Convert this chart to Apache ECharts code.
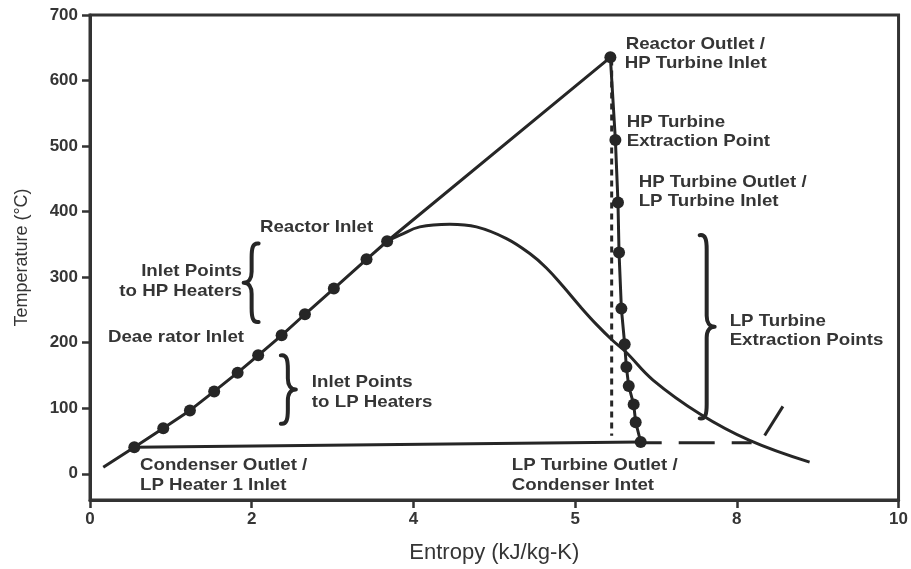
<!DOCTYPE html>
<html lang="en">
<head>
    <meta charset="UTF-8">
    <title>T-s diagram</title>
    <script src="https://cdn.jsdelivr.net/npm/echarts@6/dist/echarts.min.js"></script>
</head>
<style>
html,body{margin:0;padding:0;background:#fff;}
#chartBox{width:911px;height:569px;}
</style>
<body>
    <div id="chartBox"></div>
</body>
<script>
// 轴刻度
const xTickLabels = ['0', '2', '4', '5', '8', '10'];
const yTicks = [0, 100, 200, 300, 400, 500, 600, 700];

// 给水加热线 (起点 -> 各加热器入口 -> 反应堆出口)
const feedS = [0.164, 0.548, 0.906, 1.236, 1.536, 1.826, 2.080, 2.370, 2.658, 3.016, 3.420, 3.675, 6.436];
const feedT = [10.1, 40.6, 69.6, 96.7, 125.7, 154.3, 180.7, 211.3, 243.4, 282.6, 327.3, 354.8, 635.4];

// 加热器入口点
const heaterS = [0.548, 0.906, 1.236, 1.536, 1.826, 2.080, 2.370, 2.658, 3.016, 3.420, 3.675];
const heaterT = [40.6, 69.6, 96.7, 125.7, 154.3, 180.7, 211.3, 243.4, 282.6, 327.3, 354.8];

// 饱和线
const domeS = [3.675, 3.832, 4.079, 4.450, 4.780, 5.151, 5.439, 5.645, 5.850, 6.057, 6.263, 6.468, 6.634, 6.963, 7.540, 8.158, 8.900];
const domeT = [354.8, 364.0, 376.7, 380.8, 376.7, 358.9, 336.0, 314.0, 286.0, 256.0, 228.0, 203.0, 185.0, 143.0, 91.6, 50.9, 17.7];

// 汽轮机膨胀线 (含抽汽点)
const turbineS = [6.436, 6.498, 6.530, 6.543, 6.572, 6.613, 6.634, 6.663, 6.724, 6.749, 6.811];
const turbineT = [635.4, 509.1, 413.9, 337.6, 252.0, 197.5, 162.8, 133.8, 105.9, 78.8, 48.5];

// 冷凝线 / 虚线延长 / 斜短线 / 等熵线
const condS = [0.548, 6.811];
const condT = [40.6, 48.5];
const dashS = [6.811, 8.183];
const dashT = [47.5, 47.5];
const diagS = [8.344, 8.570];
const diagT = [58.5, 102.8];
const isenS = [6.452, 6.452];
const isenT = [632, 58];

// 大括号: 位置x, 上端, 下端, 方向(1 = '}', -1 = '{')
const braceS = [1.999, 2.447, 7.627];
const braceTop = [351.3, 180.7, 364.0];
const braceBottom = [231.6, 76.4, 84.5];
const braceDir = [-1, 1, 1];

// 注释文字
const noteText = ['Reactor Outlet /', 'HP Turbine Inlet', 'HP Turbine', 'Extraction Point',
    'HP Turbine Outlet /', 'LP Turbine Inlet', 'Reactor Inlet', 'Inlet Points', 'to HP Heaters',
    'Deae rator Inlet', 'Inlet Points', 'to LP Heaters', 'Condenser Outlet /', 'LP Heater 1 Inlet',
    'LP Turbine Outlet /', 'Condenser Intet', 'LP Turbine', 'Extraction Points'];
const noteS = [6.625, 6.613, 6.638, 6.638, 6.786, 6.786, 2.101, 1.879, 1.879,
    0.222, 2.744, 2.744, 0.618, 0.618, 5.216, 5.216, 7.911, 7.911];
const noteT = [655.7, 626.7, 536.6, 507.6, 444.2, 415.9, 375.4, 309.0, 278.5,
    208.2, 139.5, 108.9, 12.7, -17.9, 12.7, -17.9, 232.6, 203.6];
const noteAlign = ['left', 'left', 'left', 'left', 'left', 'left', 'left', 'right', 'right',
    'left', 'left', 'left', 'left', 'left', 'left', 'left', 'left', 'left'];

const LINE = '#262626';
const TEXT = '#353535';
const FONT = '"Liberation Sans", Arial, sans-serif';

function pairs(xs, ys) {
    return xs.map((x, i) => [x, ys[i]]);
}

function lineSeries(xs, ys, extra) {
    return Object.assign({
        type: 'line',
        data: pairs(xs, ys),
        showSymbol: false,
        symbol: 'none',
        silent: true,
        lineStyle: {color: LINE, width: 3},
        z: 3
    }, extra || {});
}

// 大括号
function renderBrace(params, api) {
    let top = api.coord([api.value(0), api.value(1)]);
    let bot = api.coord([api.value(0), api.value(2)]);
    let d = api.value(3);
    let x0 = top[0], yt = top[1], yb = bot[1], ym = (yt + yb) / 2;
    let p = 'M' + (x0 - d * 7) + ',' + yt +
        ' C' + (x0 - d * 1) + ',' + (yt - 1) + ' ' + x0 + ',' + (yt + 5) + ' ' + x0 + ',' + (yt + 14) +
        ' L' + x0 + ',' + (ym - 11) +
        ' C' + x0 + ',' + (ym - 4) + ' ' + (x0 + d * 3) + ',' + ym + ' ' + (x0 + d * 8) + ',' + ym +
        ' C' + (x0 + d * 3) + ',' + ym + ' ' + x0 + ',' + (ym + 4) + ' ' + x0 + ',' + (ym + 11) +
        ' L' + x0 + ',' + (yb - 14) +
        ' C' + x0 + ',' + (yb - 5) + ' ' + (x0 - d * 1) + ',' + (yb + 1) + ' ' + (x0 - d * 7) + ',' + yb;
    return {
        type: 'path',
        shape: {pathData: p},
        style: {fill: null, stroke: LINE, lineWidth: 4, lineCap: 'round', lineJoin: 'round'}
    };
}

// 注释文字
function renderNote(params, api) {
    let i = params.dataIndex;
    let pt = api.coord([api.value(0), api.value(1)]);
    return {
        type: 'text',
        x: pt[0],
        y: pt[1],
        scaleX: 1.1,
        style: {
            text: noteText[i],
            fill: TEXT,
            font: 'bold 17px ' + FONT,
            textAlign: noteAlign[i],
            textVerticalAlign: 'middle',
            align: noteAlign[i],
            verticalAlign: 'middle'
        }
    };
}

let chartObj = echarts.init(document.getElementById('chartBox'));

let option = {
    animation: false,
    textStyle: {fontFamily: FONT},
    grid: {
        left: 90,
        right: 12,
        top: 15,
        bottom: 69,
        show: true,
        borderColor: '#333',
        borderWidth: 3
    },
    xAxis: {
        type: 'value',
        min: 0,
        max: 10,
        interval: 2,
        name: 'Entropy (kJ/kg-K)',
        nameLocation: 'middle',
        nameGap: 42,
        nameTextStyle: {fontSize: 22, color: TEXT, fontFamily: FONT},
        axisLine: {onZero: false, lineStyle: {color: '#333', width: 3}},
        axisTick: {length: 8, lineStyle: {color: '#333', width: 2.5}},
        axisLabel: {
            margin: 11,
            fontSize: 17,
            fontWeight: 'bold',
            color: TEXT,
            fontFamily: FONT,
            formatter: function (v) { return xTickLabels[Math.round(v / 2)]; }
        },
        splitLine: {show: false}
    },
    yAxis: {
        type: 'value',
        min: -40,
        max: 700,
        name: 'Temperature (°C)',
        nameLocation: 'middle',
        nameRotate: 90,
        nameGap: 59,
        nameTextStyle: {fontSize: 18, color: TEXT, fontFamily: FONT},
        axisLine: {show: true, onZero: false, lineStyle: {color: '#333', width: 3}},
        axisTick: {show: true, length: 8, customValues: yTicks, lineStyle: {color: '#333', width: 2.5}},
        axisLabel: {
            customValues: yTicks,
            margin: 12,
            fontSize: 17,
            fontWeight: 'bold',
            color: TEXT,
            fontFamily: FONT
        },
        splitLine: {show: false}
    },
    series: [
        lineSeries(feedS, feedT),
        lineSeries(domeS, domeT, {smooth: 0.4}),
        lineSeries(turbineS, turbineT),
        lineSeries(condS, condT),
        lineSeries(dashS, dashT, {lineStyle: {color: LINE, width: 3, type: [36, 17], dashOffset: 15}}),
        lineSeries(diagS, diagT),
        lineSeries(isenS, isenT, {lineStyle: {color: LINE, width: 3, type: [6, 5]}}),
        {
            type: 'scatter',
            data: pairs(heaterS, heaterT).concat(pairs(turbineS, turbineT)),
            symbol: 'circle',
            symbolSize: 12,
            itemStyle: {color: LINE, opacity: 1},
            silent: true,
            z: 5
        },
        {
            type: 'custom',
            data: braceS.map((s, i) => [s, braceTop[i], braceBottom[i], braceDir[i]]),
            encode: {x: 0, y: [1, 2]},
            renderItem: renderBrace,
            silent: true,
            z: 4
        },
        {
            type: 'custom',
            data: pairs(noteS, noteT),
            encode: {x: 0, y: 1},
            renderItem: renderNote,
            silent: true,
            z: 6
        }
    ]
};

chartObj.setOption(option);
</script>
</html>
